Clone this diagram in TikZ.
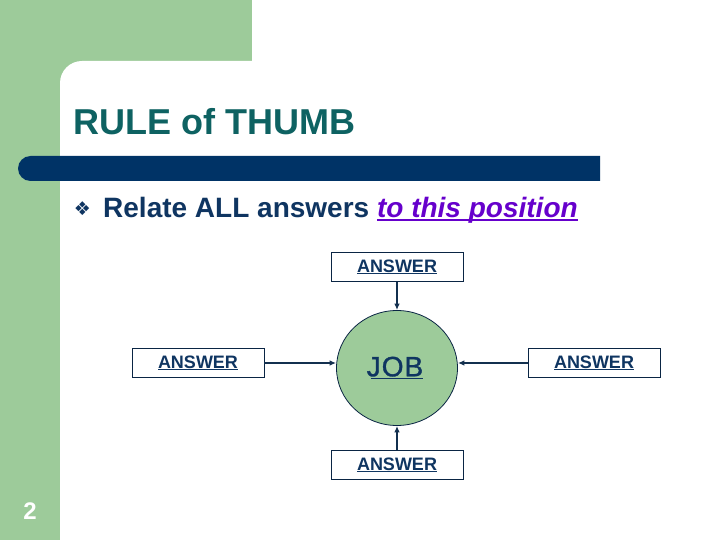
\documentclass[tikz,border=0pt]{standalone}
\usepackage{fontspec}
\setmainfont{Liberation Sans}
\newfontfamily\symfont{DejaVu Sans}
\newfontfamily\jobfont[FakeBold=1.2]{Liberation Sans}
\usepackage{tikz}
\usetikzlibrary{shapes.geometric}
\usetikzlibrary{arrows.meta}
\usetikzlibrary{positioning}
\definecolor{slidegreen}{HTML}{9DCB9A}
\definecolor{barblue}{HTML}{003366}
\definecolor{titleteal}{HTML}{0E6262}
\definecolor{textblue}{HTML}{0F3561}
\definecolor{linkpurple}{HTML}{6600CC}
\definecolor{arrowblue}{HTML}{13304F}
\newcommand\ulbox[2][2pt]{\setbox0\hbox{#2}\rlap{\rule[-#1]{\wd0}{1.6pt}}\box0}
\begin{document}
\begin{tikzpicture}[x=1pt, y=-1pt,
ans/.style={rectangle, draw=textblue!70!black, line width=0.8pt, fill=white, minimum width=132pt, minimum height=29pt, inner sep=0pt, text=textblue, font=\fontsize{18}{20}\selectfont\bfseries},
job/.style={ellipse, draw=textblue!70!black, line width=0.8pt, fill=slidegreen, minimum width=121pt, minimum height=115pt, inner sep=0pt, text=textblue, font=\fontsize{28}{32}\jobfont},
link/.style={arrowblue, line width=2pt, -{Latex[length=6.5pt,width=5.5pt]}}]
\useasboundingbox (0,0) rectangle (720,540);
% background
\fill[slidegreen] (0,0) rectangle (720,540);
\fill[white] (60,545) -- (60,83) arc[start angle=180, end angle=270, radius=22] -- (725,61) -- (725,545) -- cycle;
\fill[white] (252,-5) rectangle (725,62);
\fill[barblue] (600,156) [rounded corners=12.5pt] -- (18,156) -- (18,181) [sharp corners] -- (600,181) -- cycle;
% texts
\node[anchor=base west, inner sep=0pt, text=titleteal, font=\fontsize{36}{42}\selectfont\bfseries] (title) at (73,135) {RULE of THUMB};
\node[text=textblue, inner sep=0pt, font=\fontsize{19}{20}\selectfont\symfont] (bullet) at (82.5,209) {❖};
\node[anchor=base west, inner sep=0pt, text=textblue, font=\fontsize{28}{32}\selectfont\bfseries] (relate) at (103,218) {Relate ALL answers \textcolor{linkpurple}{\itshape\ulbox[3pt]{to this position}}};
\node[text=white, font=\fontsize{24}{28}\selectfont\bfseries] (page) at (30,511) {2};
% diagram
\node[job] (job) at (397,368) {\ulbox[3pt]{\hspace{-4pt}J\hspace{1pt}O\hspace{1pt}B}};
\node[ans] (top) at (397,267) {\ulbox{ANSWER}};
\node[ans] (left) at (198,363) {\ulbox{ANSWER}};
\node[ans] (right) at (594,363) {\ulbox{ANSWER}};
\node[ans] (bottom) at (397,465) {\ulbox{ANSWER}};
\draw[link] (top) to (job);
\draw[link] (bottom) to (job);
\draw[link] (left.east) to (job.west |- left.east);
\draw[link] (right.west) to (job.east |- right.west);
\end{tikzpicture}
\end{document}
